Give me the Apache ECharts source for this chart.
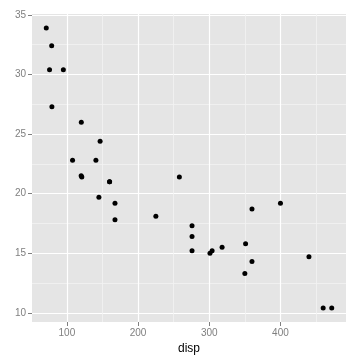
<!DOCTYPE html>
<html>
<head>
<meta charset="utf-8">
<script src="https://cdn.jsdelivr.net/npm/echarts@6/dist/echarts.min.js"></script>
<style>html,body{margin:0;padding:0;background:#fff}#c{width:360px;height:360px}</style>
</head>
<body>
<div id="c"></div>
<script>
const disp = [160, 160, 108, 258, 360, 225, 360, 146.7, 140.8, 167.6, 167.6, 275.8, 275.8, 275.8, 472, 460, 440, 78.7, 75.7, 71.1, 120.1, 318, 304, 350, 400, 79, 120.3, 95.1, 351, 145, 301, 121];
const mpg = [21.0, 21.0, 22.8, 21.4, 18.7, 18.1, 14.3, 24.4, 22.8, 19.2, 17.8, 16.4, 17.3, 15.2, 10.4, 10.4, 14.7, 32.4, 30.4, 33.9, 21.5, 15.5, 15.2, 13.3, 19.2, 27.3, 26.0, 30.4, 15.8, 19.7, 15.0, 21.4];
const xTicks = [100, 200, 300, 400];
const xMinor = [150, 250, 350, 450];
const yTicks = [10, 15, 20, 25, 30, 35];
const yMinor = [12.5, 17.5, 22.5, 27.5, 32.5];
const xTitle = 'disp';

const xMin = Math.min(...disp), xMax = Math.max(...disp);
const yMin = Math.min(...mpg), yMax = Math.max(...mpg);
const xPad = (xMax - xMin) * 0.05, yPad = (yMax - yMin) * 0.05;
const font = '"Liberation Sans", Arial, sans-serif';

const chart = echarts.init(document.getElementById('c'), null, {renderer: 'canvas'});
chart.setOption({
  animation: false,
  grid: {left: 32, right: 14, top: 14, bottom: 38, show: true, backgroundColor: '#E5E5E5', borderWidth: 0},
  xAxis: [{
    type: 'value', min: xMin - xPad, max: xMax + xPad,
    axisLine: {show: false},
    axisTick: {show: true, length: 4, customValues: xTicks, lineStyle: {color: '#7F7F7F', width: 1}},
    axisLabel: {customValues: xTicks, color: '#7F7F7F', fontSize: 10, fontFamily: font, margin: 6},
    splitLine: {show: true, lineStyle: {color: '#FFFFFF', width: 1.2}},
    name: xTitle, nameLocation: 'middle', nameGap: 18,
    nameTextStyle: {color: '#000', fontSize: 12, fontFamily: font}
  }, {
    type: 'value', min: xMin - xPad, max: xMax + xPad, position: 'top',
    axisLine: {show: false}, axisLabel: {show: false},
    axisTick: {show: false, customValues: xMinor},
    splitLine: {show: true, lineStyle: {color: '#F2F2F2', width: 0.8}}
  }],
  yAxis: [{
    type: 'value', min: yMin - yPad, max: yMax + yPad,
    axisLine: {show: false},
    axisTick: {show: true, length: 4, customValues: yTicks, lineStyle: {color: '#7F7F7F', width: 1}},
    axisLabel: {customValues: yTicks, color: '#7F7F7F', fontSize: 10, fontFamily: font, margin: 6},
    splitLine: {show: true, lineStyle: {color: '#FFFFFF', width: 1.2}}
  }, {
    type: 'value', min: yMin - yPad, max: yMax + yPad, position: 'right',
    axisLine: {show: false}, axisLabel: {show: false},
    axisTick: {show: false, customValues: yMinor},
    splitLine: {show: true, lineStyle: {color: '#F2F2F2', width: 0.8}}
  }],
  series: [{
    type: 'scatter',
    data: disp.map((d, i) => [d, mpg[i]]),
    symbol: 'circle', symbolSize: 5,
    itemStyle: {color: '#000', opacity: 1}
  }]
});
</script>
</body>
</html>
